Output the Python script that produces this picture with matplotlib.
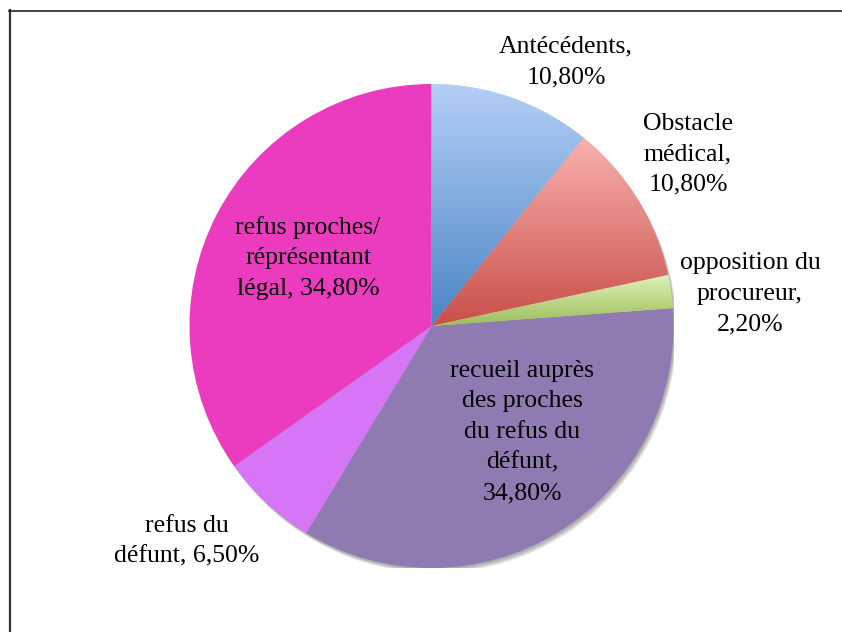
import numpy as np
import matplotlib
matplotlib.use("Agg")
import matplotlib.pyplot as plt
from matplotlib.colors import LinearSegmentedColormap
from matplotlib.lines import Line2D
from matplotlib.patches import Circle

labels = ["Antécédents,\n10,80%", "Obstacle\nmédical,\n10,80%", "opposition du\nprocureur,\n2,20%",
          "recueil auprès\ndes proches\ndu refus du\ndéfunt,\n34,80%", "refus du\ndéfunt, 6,50%",
          "refus proches/\nréprésentant\nlégal, 34,80%"]
values = [10.8, 10.8, 2.2, 34.8, 6.5, 34.8]
top_colors = ["#B4CFF7", "#F8B2AE", "#DDF2B8", "#8F7BB1", "#D775F7", "#EB3CBF"]
bottom_colors = ["#4A85C4", "#C94E49", "#9CBC5A", "#8F7BB1", "#D775F7", "#EB3CBF"]
# label centre positions in pixels (x, y from top)
label_pos = [(566, 62), (688, 154), (750, 294), (522, 432), (187, 541), (308, 258)]

W, H = 842, 632
fig = plt.figure(figsize=(W / 100, H / 100), dpi=100)
fig.patch.set_facecolor("white")

cx, cy, R = 431.5, 326, 242
ax = fig.add_axes([(cx - R) / W, 1 - (cy + R) / H, 2 * R / W, 2 * R / H])
ax.set_xlim(-1, 1)
ax.set_ylim(-1, 1)
ax.set_aspect("equal")
ax.axis("off")

# soft shadow toward bottom-right
for i in range(6):
    ax.add_patch(Circle((0.004 + 0.002 * i, -0.006 - 0.003 * i), 1.0, color="black",
                        alpha=0.06, lw=0, zorder=0))

wedges, _ = ax.pie(values, startangle=90, counterclock=False, radius=1.0,
                   colors=top_colors, wedgeprops=dict(linewidth=0))
for w, c0, c1 in zip(wedges, top_colors, bottom_colors):
    w.set_zorder(1)
    if c0 != c1:
        path = w.get_path()
        verts = path.vertices
        ymin, ymax = verts[:, 1].min(), verts[:, 1].max()
        xmin, xmax = verts[:, 0].min(), verts[:, 0].max()
        cmap = LinearSegmentedColormap.from_list("g", [c1, c0])
        grad = np.linspace(0, 1, 256).reshape(-1, 1)
        im = ax.imshow(grad, cmap=cmap, origin="lower", aspect="auto",
                       extent=[xmin, xmax, ymin, ymax], zorder=2, interpolation="bilinear")
        im.set_clip_path(w)
ax.set_xlim(-1, 1)
ax.set_ylim(-1, 1)

for lab, (px, py) in zip(labels, label_pos):
    fig.text(px / W, 1 - py / H, lab, ha="center", va="center", fontsize=18.5,
             family="Liberation Serif", linespacing=1.5, color="black", zorder=5)

# frame lines
fig.add_artist(Line2D([9.5 / W, 9.5 / W], [0, 1 - 10 / H], color="#333333", lw=1.6))
fig.add_artist(Line2D([9 / W, 1], [1 - 10.5 / H, 1 - 10.5 / H], color="#222222", lw=1.2))

fig.savefig("out.png", dpi=100, facecolor="white")
